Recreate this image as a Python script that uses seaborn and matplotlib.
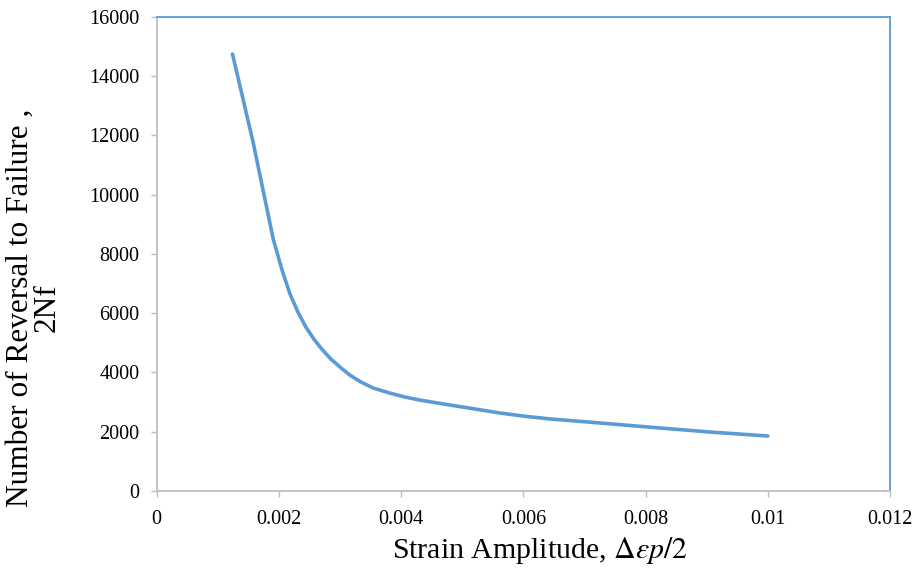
import matplotlib
matplotlib.use("Agg")
import matplotlib.pyplot as plt
import seaborn as sns
import pandas as pd

# Plastic strain amplitude vs. reversals to failure
strain_amplitude = [0.00124, 0.00140, 0.00158, 0.00175, 0.00191, 0.00205,
                    0.00218, 0.00231, 0.00244, 0.00257, 0.00270, 0.00285,
                    0.00300, 0.00316, 0.00333, 0.00354, 0.00382, 0.00407,
                    0.00431, 0.00480, 0.00521, 0.00562, 0.00603, 0.00644,
                    0.00725, 0.00824, 0.00905, 0.01000]
reversals = [14740, 13330, 11740, 10050, 8470, 7460,
             6650, 6040, 5530, 5130, 4790, 4450,
             4180, 3910, 3690, 3475, 3300, 3165,
             3065, 2900, 2765, 2630, 2520, 2430,
             2295, 2125, 1990, 1855]

x_ticks = [0, 0.002, 0.004, 0.006, 0.008, 0.01, 0.012]
x_tick_labels = ["0", "0.002", "0.004", "0.006", "0.008", "0.01", "0.012"]
y_ticks = [0, 2000, 4000, 6000, 8000, 10000, 12000, 14000, 16000]

df = pd.DataFrame({"strain": strain_amplitude, "reversals": reversals})

sns.set_theme(style="white")
plt.rcParams["font.family"] = ["Liberation Serif", "DejaVu Serif"]
plt.rcParams["mathtext.fontset"] = "stix"

line_color = "#5B9BD5"
axis_grey = "#BFBFBF"

fig = plt.figure(figsize=(9.17, 5.73), dpi=100)
ax = fig.add_axes([0.1709, 0.1431, 0.7997, 0.8278])

sns.lineplot(data=df, x="strain", y="reversals", ax=ax, sort=False,
             estimator=None, color=line_color, linewidth=2.6,
             solid_capstyle="round", solid_joinstyle="round")

ax.set_xlim(0, 0.012)
ax.set_ylim(0, 16000)
ax.set_xticks(x_ticks)
ax.set_xticklabels(x_tick_labels)
ax.set_yticks(y_ticks)
ax.set_yticklabels([str(v) for v in y_ticks])

for side in ("left", "bottom"):
    ax.spines[side].set_color(axis_grey)
    ax.spines[side].set_linewidth(1.3)
for side in ("top", "right"):
    ax.spines[side].set_color(line_color)
    ax.spines[side].set_linewidth(1.3)

ax.tick_params(axis="both", which="major", direction="out", length=4.5,
               width=1.0, color=axis_grey, labelsize=14.5, labelcolor="black",
               left=True, bottom=True)
ax.tick_params(axis="x", pad=9)
ax.tick_params(axis="y", pad=8)

ax.set_xlabel(r"Strain Amplitude, $\Delta\varepsilon p/2$", fontsize=21.5,
              color="black")
ax.xaxis.set_label_coords(0.522, -0.093)
ax.set_ylabel("Number of Reversal to Failure ,\n2Nf", fontsize=22.5,
              color="black", linespacing=0.9)
ax.yaxis.set_label_coords(-0.130, 0.387)

fig.savefig("out.png", dpi=100, facecolor="white")
